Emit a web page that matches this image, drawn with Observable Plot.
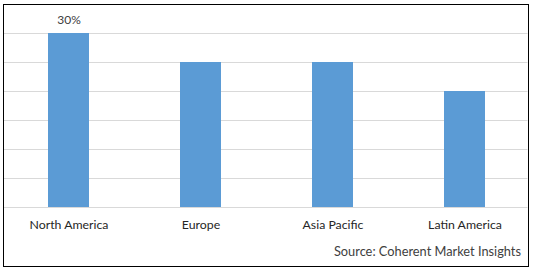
<!DOCTYPE html>
<html>
<head>
<meta charset="utf-8">
<script src="https://cdn.jsdelivr.net/npm/d3@7"></script>
<script src="https://cdn.jsdelivr.net/npm/@observablehq/plot@0.6"></script>
<style>
  html, body { margin: 0; padding: 0; background: #fff; }
  #wrap { position: relative; width: 538px; height: 272px; }
  #border { position: absolute; left: 3px; top: 4px; width: 524px; height: 261px; border: 1px solid #000; pointer-events: none; }
</style>
</head>
<body>
<div id="wrap"><div id="border"></div></div>
<script>
const regions = ["North America", "Europe", "Asia Pacific", "Latin America"];
const shares = [30, 25, 25, 20];
const valueLabels = ["30%", "", "", ""];
const gridTicks = [5, 10, 15, 20, 25, 30];
const source = "Source: Coherent Market Insights";

const data = regions.map((r, i) => ({region: r, share: shares[i], label: valueLabels[i]}));
const font = "Lato, 'Open Sans', sans-serif";

const chart = Plot.plot({
  width: 538,
  height: 272,
  marginLeft: 2.5,
  marginRight: 7.5,
  marginTop: 4,
  marginBottom: 65,
  style: {fontFamily: font, fontSize: "12px", color: "#262626", background: "transparent"},
  x: {domain: regions, paddingInner: 0.69, paddingOuter: 0.345, label: null},
  y: {domain: [0, 35], axis: null},
  marks: [
    Plot.ruleY(gridTicks, {stroke: "#d9d9d9", strokeWidth: 1, insetLeft: 1.5, insetRight: 3}),
    Plot.barY(data, {x: "region", y: "share", fill: "#5b9bd5"}),
    Plot.ruleY([0], {stroke: "#d9d9d9", strokeWidth: 1, insetLeft: 1.5, insetRight: 3}),
    Plot.text(data.filter(d => d.label), {x: "region", y: "share", text: "label", dy: -13, fill: "#404040", fontSize: 12}),
    Plot.axisX({tickSize: 0, tickPadding: 12.5, fill: "#262626", fontSize: 12.3}),
    Plot.text([source], {text: d => d, frameAnchor: "bottom-right", textAnchor: "end", dx: -10, dy: 48, fill: "#404040", fontSize: 12.8})
  ]
});
document.getElementById("wrap").prepend(chart);
</script>
</body>
</html>
